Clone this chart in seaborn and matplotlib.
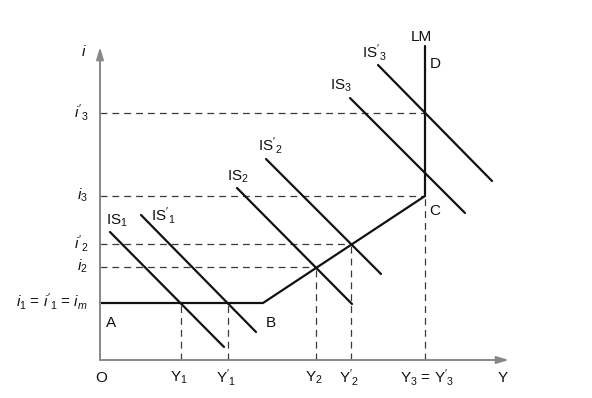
import matplotlib
matplotlib.use("Agg")
import matplotlib.pyplot as plt
import seaborn as sns
import pandas as pd

sns.set_theme(style="white")
plt.rcParams['font.family'] = ['Liberation Sans', 'DejaVu Sans']
plt.rcParams['mathtext.fontset'] = 'custom'
plt.rcParams['mathtext.rm'] = 'Liberation Sans'
plt.rcParams['mathtext.it'] = 'Liberation Sans:italic'
plt.rcParams['mathtext.fallback'] = 'cm'
plt.rcParams['lines.dashed_pattern'] = [5.5, 4.0]

# ---- data (schematic units: origin at axes corner) ----
Y_names = ["Y1", "Y1p", "Y2", "Y2p", "Y3"]
Y_vals = [81, 128, 216, 251, 325]
Y_labels = [r"$\mathrm{Y}_1$", r"$\mathrm{Y}'_1$", r"$\mathrm{Y}_2$", r"$\mathrm{Y}'_2$",
            r"$\mathrm{Y}_3$ = $\mathrm{Y}'_3$"]

i_names = ["im", "i2", "i2p", "i3", "i3p"]
i_vals = [57, 93, 116, 164, 247]
i_labels = [r"$i_1$ = $i'_1$ = $i_m$", r"$i_2$", r"$i'_2$", r"$i_3$", r"$i'_3$"]

# LM curve vertices: A (axis), B (kink), C (kink), D (top)
LM_x = [0, 163, 325, 325]
LM_y = [57, 57, 164, 314]

# IS curves: start and end points
IS_names = ["IS1", "IS1p", "IS2", "IS2p", "IS3", "IS3p"]
IS_x0 = [10, 41, 137, 166, 250, 278]
IS_y0 = [128, 145, 172, 201, 262, 295]
IS_x1 = [124, 156, 252, 281, 365, 392]
IS_y1 = [13, 28, 56, 86, 147, 179]
IS_labels = [r"$\mathrm{IS}_1$", r"$\mathrm{IS}'_1$", r"$\mathrm{IS}_2$", r"$\mathrm{IS}'_2$",
             r"$\mathrm{IS}_3$", r"$\mathrm{IS}'_3$"]
IS_lab_x = [17, 63, 138, 170, 241, 274]
IS_lab_y = [139, 145, 183, 214, 274, 308]

# guide lines: each Y level goes up to its i level
guide_i = [57, 57, 93, 116, 164]
hline_i = [93, 116, 164, 247]
hline_to = [216, 251, 325, 325]

X_MAX = 409
I_MAX = 313

fig = plt.figure(figsize=(5.92, 3.98), dpi=100)
ax = fig.add_axes([0, 0, 1, 1])
ax.set_xlim(-100, 492)
ax.set_ylim(-38, 360)
ax.axis('off')

line_kw = dict(ax=ax, sort=False, estimator=None, errorbar=None, legend=False)
dash_kw = dict(color="#3a3a3a", linewidth=0.9, linestyle="--")
solid_kw = dict(color="#111111", linewidth=1.6)

# horizontal dashed guides
for yi, xt in zip(hline_i, hline_to):
    sns.lineplot(x=[0, xt], y=[yi, yi], **line_kw, **dash_kw)
# vertical dashed guides
for xv, yv in zip(Y_vals, guide_i):
    sns.lineplot(x=[xv, xv], y=[0, yv], **line_kw, **dash_kw)

# axes
ax.annotate("", xy=(0, I_MAX), xytext=(0, 0),
            arrowprops=dict(arrowstyle="-|>,head_length=0.6,head_width=0.18",
                            color="#888888", lw=1.4, shrinkA=0, shrinkB=0))
ax.annotate("", xy=(X_MAX, 0), xytext=(0, 0),
            arrowprops=dict(arrowstyle="-|>,head_length=0.6,head_width=0.18",
                            color="#888888", lw=1.4, shrinkA=0, shrinkB=0))

# LM
sns.lineplot(x=LM_x, y=LM_y, **line_kw, **solid_kw)
# IS curves
for x0, y0, x1, y1 in zip(IS_x0, IS_y0, IS_x1, IS_y1):
    sns.lineplot(x=[x0, x1], y=[y0, y1], **line_kw, **solid_kw)

fs = 11
for lab, lx, ly in zip(IS_labels, IS_lab_x, IS_lab_y):
    ax.text(lx, ly, lab, ha="center", va="center", fontsize=fs, color="#111111")

for lab, xv in zip(Y_labels, Y_vals):
    ax.text(xv + (2 if xv == 325 else -2), -18, lab, ha="center", va="center", fontsize=fs, color="#111111")
ax.text(1, -18, "O", ha="center", va="center", fontsize=fs, color="#111111")
ax.text(403, -18, "Y", ha="center", va="center", fontsize=fs, color="#111111")

for lab, yv in zip(i_labels, i_vals):
    ax.text(-12, yv + 1, lab, ha="right", va="center", fontsize=fs, color="#111111")
ax.text(-16, 309, r"$i$", ha="center", va="center", fontsize=fs, color="#111111")

ax.text(11, 37, "A", ha="center", va="center", fontsize=fs, color="#111111")
ax.text(171, 37, "B", ha="center", va="center", fontsize=fs, color="#111111")
ax.text(335, 149, "C", ha="center", va="center", fontsize=fs, color="#111111")
ax.text(335, 296, "D", ha="center", va="center", fontsize=fs, color="#111111")
ax.text(321, 323, "LM", ha="center", va="center", fontsize=fs, color="#111111")

fig.savefig("out.png", dpi=100)
